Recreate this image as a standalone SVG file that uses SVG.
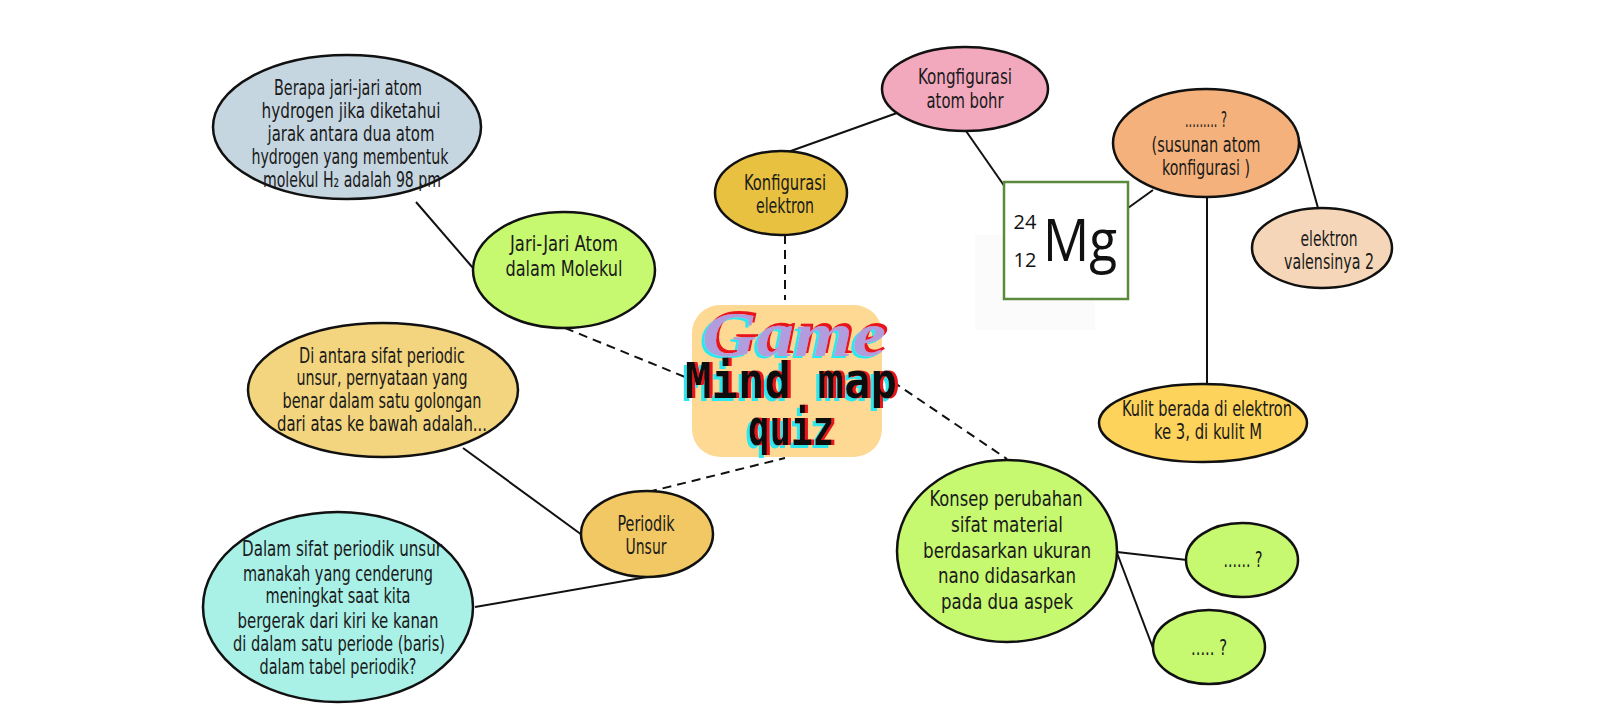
<svg xmlns="http://www.w3.org/2000/svg" width="1600" height="720" viewBox="0 0 1600 720">
<style>
.n{stroke:#111;stroke-width:2.5}
.t{font-family:"DejaVu Sans Condensed","DejaVu Sans",sans-serif;font-stretch:condensed;font-size:22px;fill:#1a1a1a;text-anchor:middle}
.c{stroke:#111;stroke-width:2;fill:none}
.d{stroke:#111;stroke-width:2;fill:none;stroke-dasharray:9 6}
.px{font-family:"DejaVu Sans Mono","Liberation Mono",monospace;font-weight:bold;font-size:50px;text-anchor:middle;fill:#111}
.sc{font-family:"Liberation Serif","DejaVu Serif",serif;font-style:italic;font-weight:bold;font-size:64px;text-anchor:middle;fill:#b19ddd}
.mg{font-family:"Open Sans","Noto Sans",sans-serif;fill:#111;text-anchor:middle}
</style>
<defs>
<filter id="glitch" x="-10%" y="-20%" width="120%" height="140%">
<feOffset in="SourceAlpha" dx="-3" dy="3" result="a"/>
<feFlood flood-color="#2ee6ee"/>
<feComposite in2="a" operator="in" result="cy"/>
<feOffset in="SourceAlpha" dx="3" dy="0" result="b"/>
<feFlood flood-color="#e8141c"/>
<feComposite in2="b" operator="in" result="rd"/>
<feMerge><feMergeNode in="cy"/><feMergeNode in="rd"/><feMergeNode in="SourceGraphic"/></feMerge>
</filter>
<filter id="glitch2" x="-10%" y="-20%" width="120%" height="140%">
<feOffset in="SourceAlpha" dx="-3" dy="2" result="a"/>
<feFlood flood-color="#2ee6ee"/>
<feComposite in2="a" operator="in" result="cy"/>
<feOffset in="SourceAlpha" dx="3" dy="-3" result="b"/>
<feFlood flood-color="#e8141c"/>
<feComposite in2="b" operator="in" result="rd"/>
<feMerge><feMergeNode in="cy"/><feMergeNode in="rd"/><feMergeNode in="SourceGraphic"/></feMerge>
</filter>
</defs>
<rect width="1600" height="720" fill="#fff"/>
<g id="connectors">
<line class="c" x1="416" y1="202" x2="473" y2="268"/>
<line class="d" x1="565" y1="328" x2="685" y2="377"/>
<line class="d" x1="785" y1="235" x2="785" y2="300"/>
<line class="c" x1="788" y1="152" x2="897" y2="113"/>
<line class="c" x1="966" y1="131" x2="1005" y2="187"/>
<line class="c" x1="1128" y1="208" x2="1153" y2="190"/>
<line class="c" x1="1207" y1="196" x2="1207" y2="385"/>
<line class="c" x1="1297" y1="133" x2="1318" y2="208"/>
<line class="d" x1="880" y1="373" x2="1007" y2="459"/>
<line class="c" x1="1117" y1="552" x2="1187" y2="560"/>
<line class="c" x1="1117" y1="553" x2="1153" y2="648"/>
<line class="d" x1="648" y1="492" x2="785" y2="458"/>
<line class="c" x1="463" y1="448" x2="582" y2="535"/>
<line class="c" x1="475" y1="607" x2="647" y2="577"/>
</g>
<g id="center">
<rect x="692" y="305" width="190" height="152" rx="28" fill="#fdd993"/>
<text class="sc" x="794" y="356" filter="url(#glitch2)" textLength="184" lengthAdjust="spacingAndGlyphs">Game</text>
<text class="px" x="791" y="398" filter="url(#glitch)" textLength="212" lengthAdjust="spacingAndGlyphs">Mind map</text>
<text class="px" x="791" y="445" filter="url(#glitch)" textLength="86" lengthAdjust="spacingAndGlyphs">quiz</text>
</g>
<g id="q-jari-jari">
<ellipse class="n" cx="347" cy="127" rx="134" ry="72" fill="#c6d6e1"/>
<text class="t" x="348" y="95" textLength="148" lengthAdjust="spacingAndGlyphs">Berapa jari-jari atom</text>
<text class="t" x="351" y="118" textLength="179" lengthAdjust="spacingAndGlyphs">hydrogen jika diketahui</text>
<text class="t" x="351" y="141" textLength="167" lengthAdjust="spacingAndGlyphs">jarak antara dua atom</text>
<text class="t" x="350" y="164" textLength="197" lengthAdjust="spacingAndGlyphs">hydrogen yang membentuk</text>
<text class="t" x="352" y="187" textLength="178" lengthAdjust="spacingAndGlyphs">molekul H₂ adalah 98 pm</text>
</g>
<g id="jari-jari-atom">
<ellipse class="n" cx="564" cy="270" rx="91" ry="58" fill="#c6f870"/>
<text class="t" x="564" y="251" textLength="108" lengthAdjust="spacingAndGlyphs">Jari-Jari Atom</text>
<text class="t" x="564" y="276" textLength="117" lengthAdjust="spacingAndGlyphs">dalam Molekul</text>
</g>
<g id="konfigurasi-elektron">
<ellipse class="n" cx="781" cy="193" rx="66" ry="42" fill="#e8c140"/>
<text class="t" x="785" y="190" textLength="82" lengthAdjust="spacingAndGlyphs">Konfigurasi</text>
<text class="t" x="785" y="213" textLength="58" lengthAdjust="spacingAndGlyphs">elektron</text>
</g>
<g id="konfigurasi-bohr">
<ellipse class="n" cx="965" cy="89" rx="83" ry="42" fill="#f2a8bd"/>
<text class="t" x="965" y="84" textLength="94" lengthAdjust="spacingAndGlyphs">Kongfigurasi</text>
<text class="t" x="965" y="108" textLength="77" lengthAdjust="spacingAndGlyphs">atom bohr</text>
</g>
<g id="mg">
<rect x="975" y="235" width="120" height="95" fill="#fbfbfb"/>
<rect x="1004" y="182" width="124" height="117" fill="#fff" stroke="#5b8a3c" stroke-width="2.5"/>
<text class="mg" x="1080" y="261" font-size="58" textLength="74" lengthAdjust="spacingAndGlyphs">Mg</text>
<text class="mg" x="1025" y="229" font-size="20">24</text>
<text class="mg" x="1025" y="267" font-size="20">12</text>
</g>
<g id="susunan-atom">
<ellipse class="n" cx="1206" cy="143" rx="93" ry="54" fill="#f4b17b"/>
<text class="t" x="1206" y="127" textLength="42" lengthAdjust="spacingAndGlyphs">......... ?</text>
<text class="t" x="1206" y="152" textLength="109" lengthAdjust="spacingAndGlyphs">(susunan atom</text>
<text class="t" x="1206" y="175" textLength="88" lengthAdjust="spacingAndGlyphs">konfigurasi )</text>
</g>
<g id="elektron-valensi">
<ellipse class="n" cx="1322" cy="248" rx="70" ry="40" fill="#f5d6b8"/>
<text class="t" x="1329" y="246" textLength="57" lengthAdjust="spacingAndGlyphs">elektron</text>
<text class="t" x="1329" y="269" textLength="90" lengthAdjust="spacingAndGlyphs">valensinya 2</text>
</g>
<g id="kulit">
<ellipse class="n" cx="1203" cy="423" rx="104" ry="39" fill="#fdd35b"/>
<text class="t" x="1207" y="416" textLength="170" lengthAdjust="spacingAndGlyphs">Kulit berada di elektron</text>
<text class="t" x="1208" y="439" textLength="108" lengthAdjust="spacingAndGlyphs">ke 3, di kulit M</text>
</g>
<g id="konsep-nano">
<ellipse class="n" cx="1007" cy="551" rx="110" ry="91" fill="#c6f870"/>
<text class="t" x="1006" y="506" textLength="153" lengthAdjust="spacingAndGlyphs">Konsep perubahan</text>
<text class="t" x="1007" y="532" textLength="112" lengthAdjust="spacingAndGlyphs">sifat material</text>
<text class="t" x="1007" y="558" textLength="168" lengthAdjust="spacingAndGlyphs">berdasarkan ukuran</text>
<text class="t" x="1007" y="583" textLength="138" lengthAdjust="spacingAndGlyphs">nano didasarkan</text>
<text class="t" x="1007" y="609" textLength="132" lengthAdjust="spacingAndGlyphs">pada dua aspek</text>
</g>
<g id="aspek-1">
<ellipse class="n" cx="1242" cy="560" rx="56" ry="37" fill="#c6f870"/>
<text class="t" x="1243" y="567" textLength="39" lengthAdjust="spacingAndGlyphs">...... ?</text>
</g>
<g id="aspek-2">
<ellipse class="n" cx="1209" cy="647" rx="56" ry="37" fill="#c6f870"/>
<text class="t" x="1209" y="655" textLength="36" lengthAdjust="spacingAndGlyphs">..... ?</text>
</g>
<g id="q-golongan">
<ellipse class="n" cx="383" cy="390" rx="135" ry="67" fill="#f3d57f"/>
<text class="t" x="382" y="363" textLength="166" lengthAdjust="spacingAndGlyphs">Di antara sifat periodic</text>
<text class="t" x="382" y="385" textLength="171" lengthAdjust="spacingAndGlyphs">unsur, pernyataan yang</text>
<text class="t" x="382" y="408" textLength="199" lengthAdjust="spacingAndGlyphs">benar dalam satu golongan</text>
<text class="t" x="382" y="431" textLength="210" lengthAdjust="spacingAndGlyphs">dari atas ke bawah adalah...</text>
</g>
<g id="periodik-unsur">
<ellipse class="n" cx="647" cy="534" rx="66" ry="43" fill="#f2c864"/>
<text class="t" x="646" y="531" textLength="57" lengthAdjust="spacingAndGlyphs">Periodik</text>
<text class="t" x="646" y="554" textLength="41" lengthAdjust="spacingAndGlyphs">Unsur</text>
</g>
<g id="q-periode">
<ellipse class="n" cx="338" cy="607" rx="135" ry="95" fill="#a9f0e7"/>
<text class="t" x="342" y="556" textLength="200" lengthAdjust="spacingAndGlyphs">Dalam sifat periodik unsur</text>
<text class="t" x="338" y="581" textLength="190" lengthAdjust="spacingAndGlyphs">manakah yang cenderung</text>
<text class="t" x="338" y="603" textLength="145" lengthAdjust="spacingAndGlyphs">meningkat saat kita</text>
<text class="t" x="338" y="628" textLength="201" lengthAdjust="spacingAndGlyphs">bergerak dari kiri ke kanan</text>
<text class="t" x="339" y="651" textLength="212" lengthAdjust="spacingAndGlyphs">di dalam satu periode (baris)</text>
<text class="t" x="338" y="674" textLength="157" lengthAdjust="spacingAndGlyphs">dalam tabel periodik?</text>
</g>
</svg>
